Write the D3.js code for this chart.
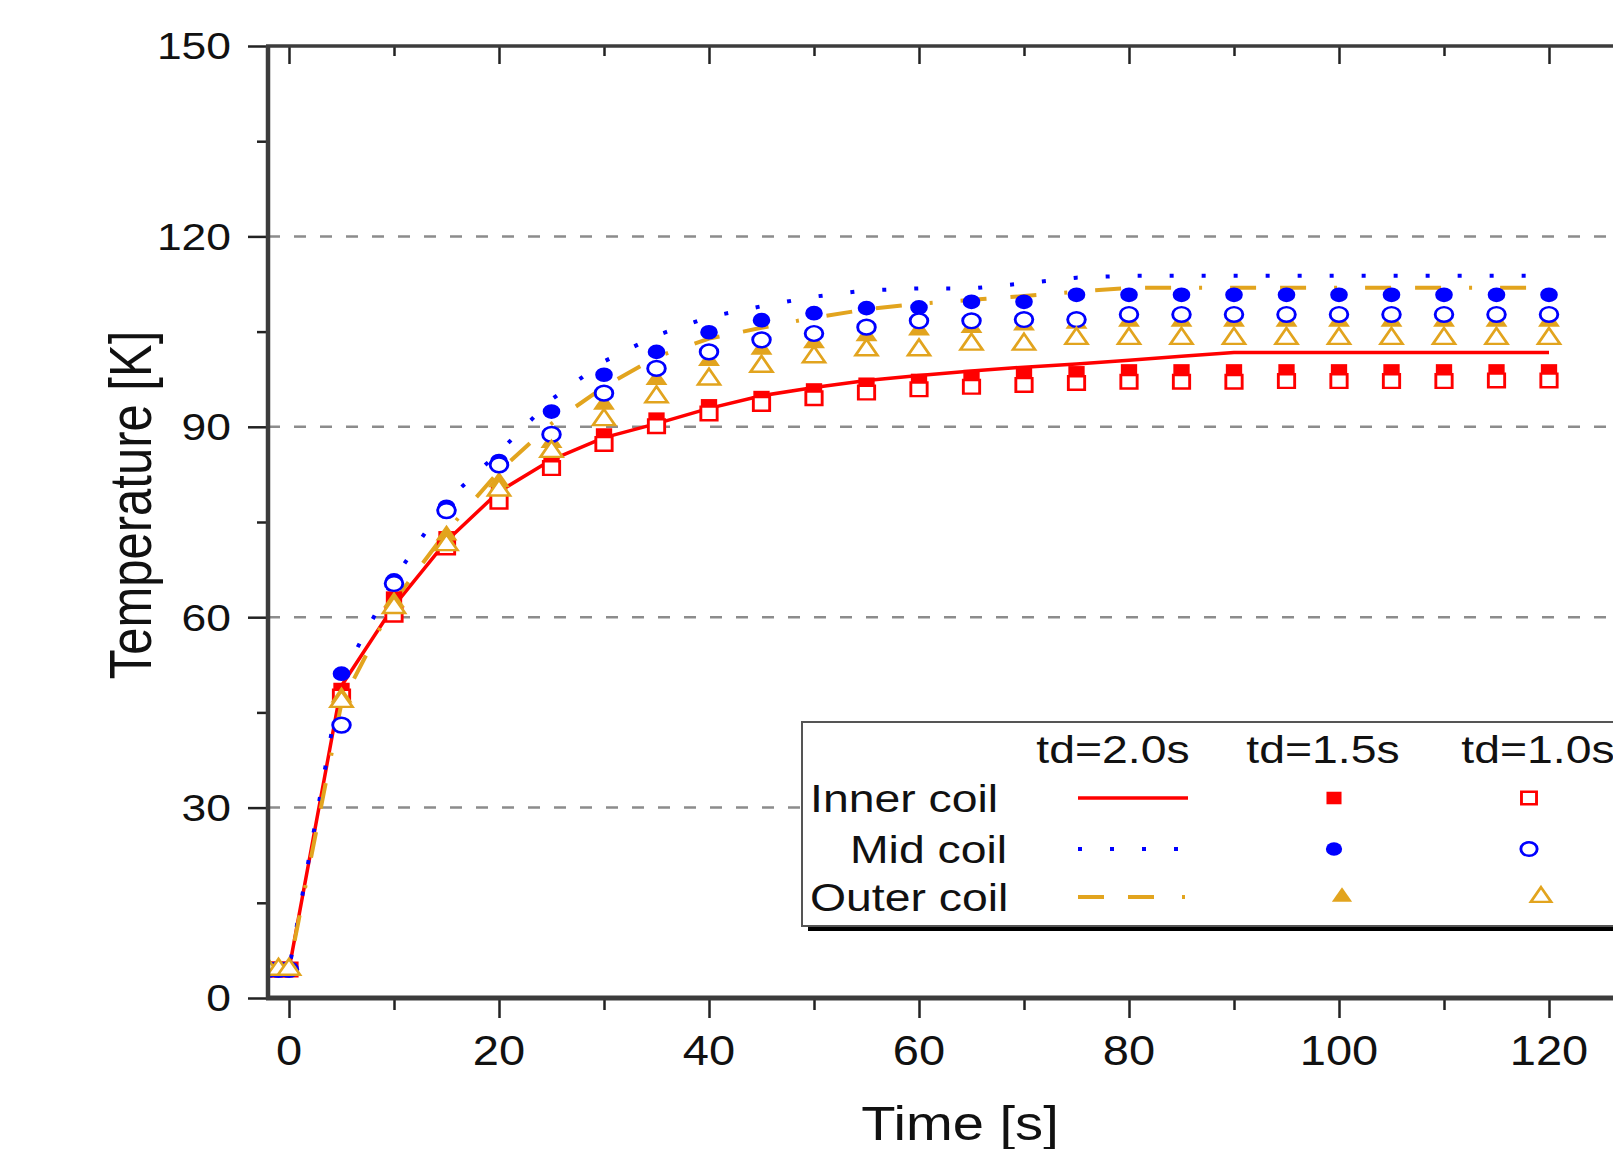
<!DOCTYPE html>
<html>
<head>
<meta charset="utf-8">
<script src="https://cdn.jsdelivr.net/npm/d3@7"></script>
<style>
  html, body { margin: 0; padding: 0; background: #fff; }
  svg { display: block; font-family: "Liberation Sans", Arial, sans-serif; }
</style>
</head>
<body>
<svg id="chart" width="1613" height="1149"></svg>
<script>
// time axis (s)
const time = [-2, -1, 0, 5, 10, 15, 20, 25, 30, 35, 40, 45, 50, 55, 60, 65, 70, 75, 80, 85, 90, 95, 100, 105, 110, 115, 120];

// Inner coil
const innerTd20 = [4.5, 4.5, 4.5, 49.2, 61.8, 72.0, 79.8, 84.8, 88.3, 90.5, 92.9, 94.9, 96.2, 97.3, 98.1, 98.8, 99.4, 99.9, 100.5, 101.1, 101.7, 101.7, 101.7, 101.7, 101.7, 101.7, 101.7];
const innerTd15 = [4.5, 4.5, 4.5, 48.6, 63.0, 72.5, 80.0, 85.0, 88.7, 91.2, 93.3, 94.6, 95.8, 96.7, 97.3, 97.9, 98.2, 98.5, 98.8, 98.8, 98.8, 98.8, 98.8, 98.8, 98.8, 98.8, 98.8];
const innerTd10 = [4.5, 4.5, 4.5, 47.5, 60.4, 71.0, 78.2, 83.5, 87.3, 90.1, 92.1, 93.6, 94.5, 95.4, 95.9, 96.3, 96.6, 96.9, 97.1, 97.1, 97.1, 97.2, 97.2, 97.2, 97.2, 97.3, 97.3];

// Mid coil
const midTd20 = [4.5, 4.5, 4.5, 50.5, 66.0, 78.3, 86.0, 94.3, 100.3, 104.4, 107.3, 109.0, 110.5, 111.5, 111.8, 111.8, 112.6, 113.5, 113.8, 113.8, 113.8, 113.8, 113.8, 113.8, 113.8, 113.8, 113.8];
const midTd15 = [4.5, 4.5, 4.5, 51.1, 65.8, 77.4, 84.6, 92.4, 98.2, 101.8, 104.9, 106.8, 107.9, 108.7, 108.8, 109.7, 109.7, 110.8, 110.8, 110.8, 110.8, 110.8, 110.8, 110.8, 110.8, 110.8, 110.8];
const midTd10 = [4.5, 4.5, 4.5, 43.0, 65.3, 76.8, 84.0, 88.8, 95.3, 99.2, 101.8, 103.7, 104.7, 105.7, 106.7, 106.7, 106.9, 106.9, 107.7, 107.7, 107.7, 107.7, 107.7, 107.7, 107.7, 107.7, 107.7];

// Outer coil
const outerTd20 = [4.5, 4.5, 4.5, 46.5, 62.5, 73.5, 83.0, 90.5, 96.3, 101.0, 103.9, 105.6, 107.2, 108.5, 109.4, 110.0, 110.6, 111.3, 111.9, 111.9, 111.9, 111.9, 111.9, 111.9, 111.9, 111.9, 111.9];
const outerTd15 = [4.5, 4.5, 4.5, 47.4, 62.4, 72.9, 81.3, 87.5, 93.5, 97.4, 100.4, 102.2, 103.2, 104.3, 105.2, 105.6, 106.0, 106.3, 106.6, 106.6, 106.6, 106.6, 106.6, 106.6, 106.6, 106.6, 106.6];
const outerTd10 = [4.5, 4.5, 4.5, 46.7, 61.5, 71.4, 80.0, 86.1, 91.1, 94.7, 97.5, 99.5, 101.0, 102.1, 102.1, 103.0, 103.0, 103.9, 103.9, 103.9, 103.9, 103.9, 103.9, 103.9, 103.9, 103.9, 103.9];

const coilNames = ["Inner coil", "Mid coil", "Outer coil"];
const tdLabels = ["td=2.0s", "td=1.5s", "td=1.0s"];

const yMajor = [0, 30, 60, 90, 120, 150];
const yMinor = [15, 45, 75, 105, 135];
const gridVals = [30, 60, 90, 120];
const xMajor = [0, 20, 40, 60, 80, 100, 120];
const xMinor = [10, 30, 50, 70, 90, 110, 130];

const red = "#ff0000", blue = "#0000ff", gold = "#e2a41e";
const coils = [
    { name: coilNames[0], color: red, dash: null, line: innerTd20, filled: innerTd15, open: innerTd10, shape: d3.symbolSquare, size: 185 },
    { name: coilNames[1], color: blue, dash: "4 28", line: midTd20, filled: midTd15, open: midTd10, shape: d3.symbolCircle, size: 170 },
    { name: coilNames[2], color: gold, dash: "26 24 26 28 3 28", line: outerTd20, filled: outerTd15, open: outerTd10, shape: d3.symbolTriangle, size: 145 }
];

const svg = d3.select("#chart");
const x = d3.scaleLinear().domain([-2, 130]).range([268, 1654]);
const y = d3.scaleLinear().domain([0, 150]).range([998, 46]);
const SX = 1.2; // whole picture is a bit wide

svg.append("defs").append("clipPath").attr("id", "plot-clip")
    .append("rect")
    .attr("x", x(-2)).attr("y", 0)
    .attr("width", 1613 - x(-2)).attr("height", y(0));

// dashed grid
svg.append("g")
    .selectAll("line")
    .data(gridVals)
    .join("line")
    .attr("x1", x(-2)).attr("x2", x.range()[1])
    .attr("y1", d => y(d)).attr("y2", d => y(d))
    .attr("stroke", "#8c8c8c")
    .attr("stroke-width", 2.5)
    .attr("stroke-dasharray", "12 14");

const plot = svg.append("g").attr("clip-path", "url(#plot-clip)");

const line = d3.line()
    .x((d, i) => x(time[i]))
    .y(d => y(d));

coils.forEach(c => {
    plot.append("path")
        .datum(c.line)
        .attr("d", line)
        .attr("fill", "none")
        .attr("stroke", c.color)
        .attr("stroke-width", c.dash ? 4 : 3.5)
        .attr("stroke-linejoin", "round")
        .attr("stroke-dasharray", c.dash);
});

function drawMarkers(g, c, values, open) {
    const sym = d3.symbol().type(c.shape).size(c.size)();
    g.append("g")
        .selectAll("path")
        .data(values)
        .join("path")
        .attr("d", sym)
        .attr("transform", (d, i) => `translate(${x(time[i])},${y(d)}) scale(${SX},1)`)
        .attr("fill", open ? "#fff" : c.color)
        .attr("stroke", open ? c.color : "none")
        .attr("stroke-width", 2.4);
}

// drawing order seen in the picture
drawMarkers(plot, coils[0], coils[0].filled, false);
drawMarkers(plot, coils[0], coils[0].open, true);
drawMarkers(plot, coils[2], coils[2].filled, false);
drawMarkers(plot, coils[1], coils[1].filled, false);
drawMarkers(plot, coils[1], coils[1].open, true);
drawMarkers(plot, coils[2], coils[2].open, true);

// axes
const tickStyle = g => {
    g.select(".domain").remove();
    g.selectAll(".tick line").attr("stroke", "#222").attr("stroke-width", 2.5);
    g.selectAll(".tick text").remove();
};

svg.append("g").attr("transform", `translate(${x(-2)},0)`)
    .call(d3.axisLeft(y).tickValues(yMajor).tickSize(20)).call(tickStyle);
svg.append("g").attr("transform", `translate(${x(-2)},0)`)
    .call(d3.axisLeft(y).tickValues(yMinor).tickSize(11)).call(tickStyle);
svg.append("g").attr("transform", `translate(0,${y(0)})`)
    .call(d3.axisBottom(x).tickValues(xMajor).tickSize(20)).call(tickStyle);
svg.append("g").attr("transform", `translate(0,${y(0)})`)
    .call(d3.axisBottom(x).tickValues(xMinor).tickSize(12)).call(tickStyle);
svg.append("g").attr("transform", `translate(0,${y(150)})`)
    .call(d3.axisTop(x).tickValues(xMajor).tickSize(-18)).call(tickStyle);
svg.append("g").attr("transform", `translate(0,${y(150)})`)
    .call(d3.axisTop(x).tickValues(xMinor).tickSize(-10)).call(tickStyle);

// frame lines
const frame = svg.append("g").attr("stroke", "#3c3c3c").attr("stroke-width", 4.5);
frame.append("line").attr("x1", x(-2)).attr("x2", x(-2)).attr("y1", y(150)).attr("y2", y(0) + 2);
frame.append("line").attr("x1", x(-2) - 2).attr("x2", x.range()[1]).attr("y1", y(0)).attr("y2", y(0)).attr("stroke-width", 5);
frame.append("line").attr("x1", x(-2) - 2).attr("x2", x.range()[1]).attr("y1", y(150)).attr("y2", y(150)).attr("stroke-width", 3.5);

// tick labels
svg.append("g")
    .selectAll("text")
    .data(yMajor)
    .join("text")
    .attr("transform", d => `translate(231,${y(d)}) scale(${SX},1)`)
    .attr("dy", "0.36em")
    .attr("text-anchor", "end")
    .attr("font-size", 37)
    .attr("fill", "#111")
    .text(d => d);

svg.append("g")
    .selectAll("text")
    .data(xMajor)
    .join("text")
    .attr("transform", d => `translate(${x(d)},1050) scale(1.12,1)`)
    .attr("dy", "0.36em")
    .attr("text-anchor", "middle")
    .attr("font-size", 42)
    .attr("fill", "#111")
    .text(d => d);

// axis titles
svg.append("text")
    .attr("transform", `translate(960,1140) scale(1.17,1)`)
    .attr("text-anchor", "middle")
    .attr("font-size", 48)
    .attr("fill", "#111")
    .text("Time [s]");

svg.append("text")
    .attr("transform", `translate(151,505) rotate(-90) scale(1,${SX})`)
    .attr("text-anchor", "middle")
    .attr("font-size", 49)
    .attr("fill", "#111")
    .text("Temperature [K]");

// legend
const legend = svg.append("g");
legend.append("rect")
    .attr("x", 808).attr("y", 728).attr("width", 900).attr("height", 203)
    .attr("fill", "#000");
legend.append("rect")
    .attr("x", 802).attr("y", 722).attr("width", 900).attr("height", 204)
    .attr("fill", "#fff")
    .attr("stroke", "#555")
    .attr("stroke-width", 2);

const headX = [1113, 1323, 1538];
const rowY = [798, 849, 897];
const labelStartX = [810, 850, 810];

legend.selectAll(".head")
    .data(tdLabels)
    .join("text")
    .attr("class", "head")
    .attr("transform", (d, i) => `translate(${headX[i]},${749 + 14}) scale(1.22,1)`)
    .attr("text-anchor", "middle")
    .attr("font-size", 38)
    .attr("fill", "#111")
    .text(d => d);

coils.forEach((c, i) => {
    const ry = rowY[i];
    legend.append("text")
        .attr("transform", `translate(${labelStartX[i]},${ry + 14}) scale(1.22,1)`)
        .attr("font-size", 38)
        .attr("fill", "#111")
        .text(c.name);

    legend.append("line")
        .attr("x1", 1078).attr("x2", 1188)
        .attr("y1", ry).attr("y2", ry)
        .attr("stroke", c.color)
        .attr("stroke-width", c.dash ? 4 : 3.5)
        .attr("stroke-dasharray", c.dash);

    const sym = d3.symbol().type(c.shape).size(c.size * 0.85)();
    legend.append("path")
        .attr("d", sym)
        .attr("transform", `translate(${1334 + (i === 2 ? 8 : 0)},${ry}) scale(${SX},1)`)
        .attr("fill", c.color);
    legend.append("path")
        .attr("d", sym)
        .attr("transform", `translate(${1529 + (i === 2 ? 12 : 0)},${ry}) scale(${SX},1)`)
        .attr("fill", "#fff")
        .attr("stroke", c.color)
        .attr("stroke-width", 2.4);
});
</script>
</body>
</html>
